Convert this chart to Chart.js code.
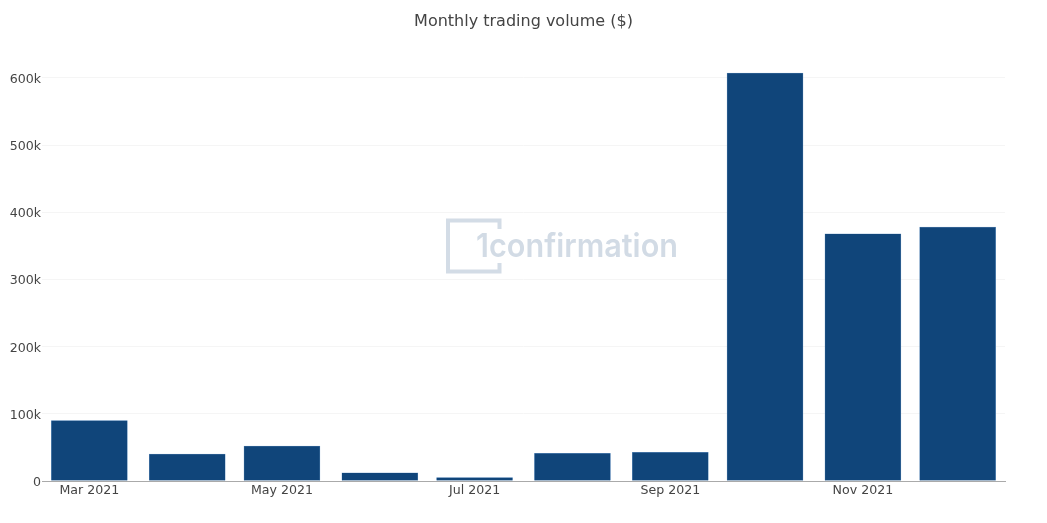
<!DOCTYPE html>
<html><head><meta charset="utf-8">
<style>html,body{margin:0;padding:0;background:#fff}#w{position:relative;width:1047px;height:523px}</style>
<script src="https://cdn.jsdelivr.net/npm/chart.js@4"></script></head>
<body><div id="w"><canvas id="c" width="1047" height="523"></canvas></div>
<script>
const chartTitle = "Monthly trading volume ($)";
const monthOffsets = [0, 31, 61, 92, 122, 153, 184, 214, 245, 275]; // days since 1 Mar 2021
const volumes = [90000, 40000, 52000, 12000, 5000, 41000, 42500, 607000, 368000, 378000];
const tickDays = [0, 61, 122, 184, 245];
const tickLabels = ["Mar 2021", "May 2021", "Jul 2021", "Sep 2021", "Nov 2021"];
const yTicks = [0, 100000, 200000, 300000, 400000, 500000, 600000];
const FONT = "'DejaVu Sans', Verdana, sans-serif";

const watermark = {
  id: 'watermark',
  beforeDatasetsDraw(chart) {
    const g = chart.ctx;
    g.save();
    g.strokeStyle = '#d3dce6';
    g.lineWidth = 4;
    g.beginPath();
    g.moveTo(499.5, 229); g.lineTo(499.5, 220.5); g.lineTo(448, 220.5);
    g.lineTo(448, 271.5); g.lineTo(499.5, 271.5); g.lineTo(499.5, 263);
    g.stroke();
    g.fillStyle = '#d2dbe5';
    g.font = "600 33px Inter, sans-serif";
    g.textBaseline = 'alphabetic';
    g.textAlign = 'left';
    const w = g.measureText('1confirmation').width;
    g.translate(476, 257);
    g.scale(202 / w, 1);
    g.fillText('1confirmation', 0, 0);
    g.restore();
  }
};

new Chart(document.getElementById('c'), {
  type: 'bar',
  plugins: [watermark],
  data: { datasets: [{
    data: monthOffsets.map((d, i) => ({ x: d, y: volumes[i] })),
    backgroundColor: '#10457a',
    borderColor: '#6f9bc8',
    borderWidth: 0.5,
    barThickness: 76
  }]},
  options: {
    responsive: false,
    animation: false,
    devicePixelRatio: 1,
    plugins: {
      legend: { display: false },
      tooltip: { enabled: false },
      title: {
        display: true, text: chartTitle, color: '#444',
        font: { family: FONT, size: 16, weight: 'normal' },
        padding: { top: 12.5, bottom: 19.3 }
      }
    },
    scales: {
      x: {
        type: 'linear', min: -15, max: 290, offset: false,
        afterBuildTicks(s) { s.ticks = tickDays.map(v => ({ value: v })); },
        afterFit(s) { s.height = 42; },
        grid: { display: false, drawTicks: false },
        border: { display: true, color: '#aaaaaa', width: 1 },
        ticks: {
          autoSkip: false, maxRotation: 0, padding: 2, color: '#444',
          font: { family: FONT, size: 12.6 },
          callback: v => tickLabels[tickDays.indexOf(v)]
        }
      },
      y: {
        min: 0, max: 640000,
        afterBuildTicks(s) { s.ticks = yTicks.map(v => ({ value: v })); },
        afterFit(s) { s.width = 42; },
        grid: { color: '#f5f5f5', drawTicks: false, lineWidth: 1 },
        border: { display: false },
        ticks: {
          padding: 1, color: '#444',
          font: { family: FONT, size: 12.6, lineHeight: '3.5px' },
          // leading empty line nudges the label down onto its gridline
          callback: v => ['', v === 0 ? '0' : (v / 1000) + 'k']
        }
      },
      // empty right-hand margin, so the title stays centred on the page
      margin: {
        position: 'right', min: 0, max: 1,
        afterFit(s) { s.width = 42; },
        grid: { display: false, drawTicks: false },
        border: { display: false },
        ticks: { display: false }
      }
    }
  }
});
</script></body></html>
